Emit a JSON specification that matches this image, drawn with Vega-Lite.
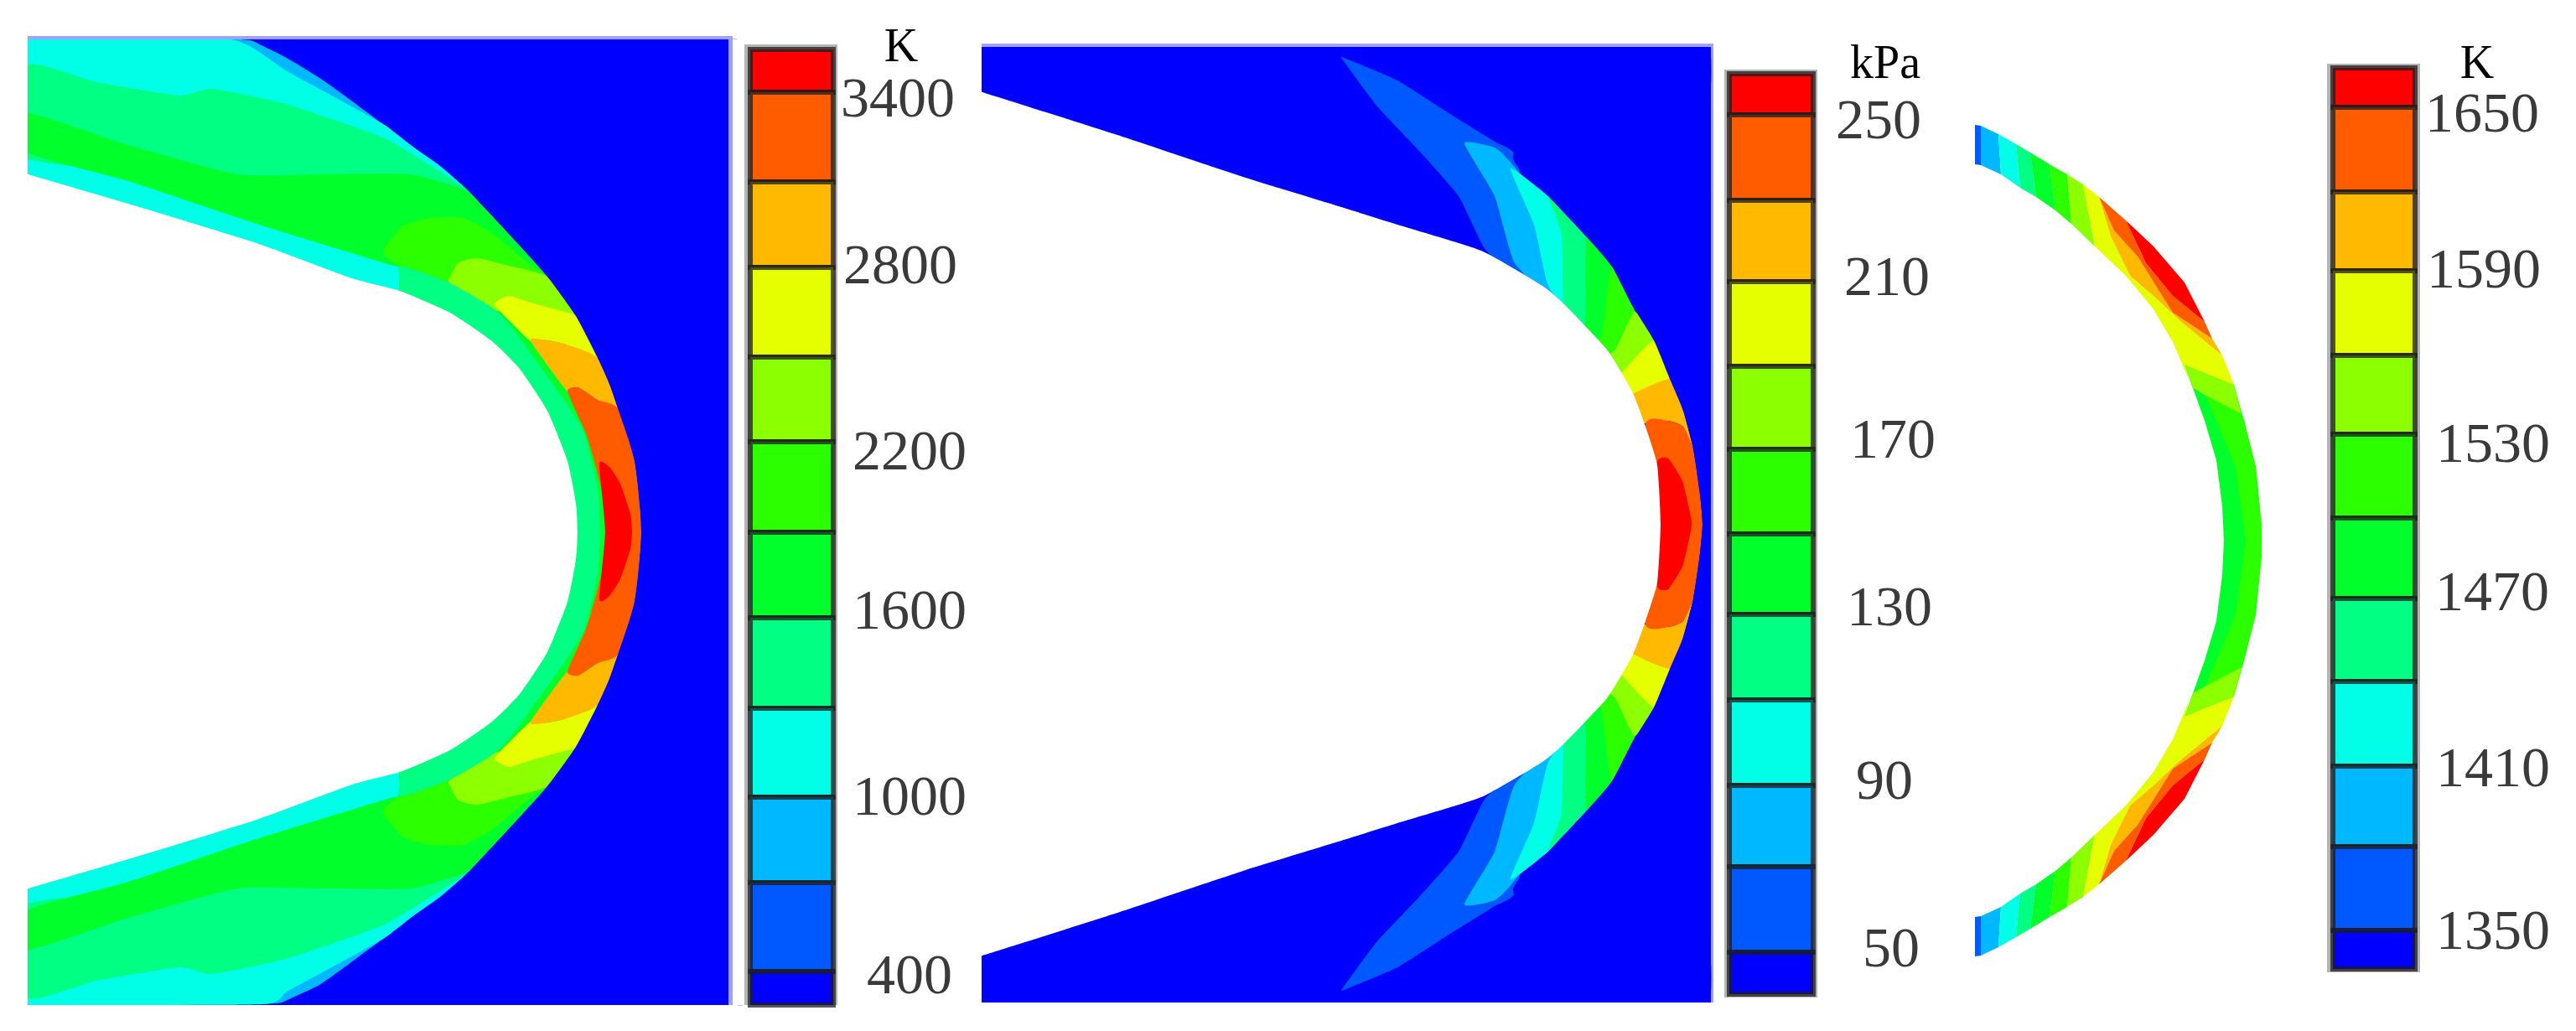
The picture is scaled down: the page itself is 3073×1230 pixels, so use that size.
{
  "$schema": "https://vega.github.io/schema/vega-lite/v6.json",
  "width": 3073,
  "height": 1230,
  "autosize": {"type": "none"},
  "padding": 0,
  "background": "white",
  "view": {"stroke": null},
  "datasets": {
    "regions": [
      {"s":"a00","b":"h","x":33,"y":43},{"s":"a00","b":"h","x":874,"y":43},{"s":"a00","b":"h","x":874,"y":1199},{"s":"a00","b":"h","x":33,"y":1199},
      {"s":"a01","b":"0","x":33,"y":47},{"s":"a01","b":"0","x":869,"y":47},{"s":"a01","b":"0","x":869,"y":1199},{"s":"a01","b":"0","x":33,"y":1199},
      {"s":"a02","b":"2","x":33,"y":100},{"s":"a02","b":"2","x":33,"y":60},{"s":"a02","b":"2","x":33,"y":47},{"s":"a02","b":"2","x":45,"y":47},{"s":"a02","b":"2","x":298,"y":48},{"s":"a02","b":"2","x":383,"y":94},{"s":"a02","b":"2","x":490,"y":173},{"s":"a02","b":"2","x":555,"y":224},{"s":"a02","b":"2","x":580,"y":250},{"s":"a02","b":"2","x":653,"y":330},{"s":"a02","b":"2","x":687,"y":377},{"s":"a02","b":"2","x":713,"y":427},{"s":"a02","b":"2","x":737,"y":487},{"s":"a02","b":"2","x":757,"y":550},{"s":"a02","b":"2","x":765,"y":634},{"s":"a02","b":"2","x":757,"y":718},{"s":"a02","b":"2","x":737,"y":781},{"s":"a02","b":"2","x":713,"y":841},{"s":"a02","b":"2","x":687,"y":891},{"s":"a02","b":"2","x":653,"y":938},{"s":"a02","b":"2","x":580,"y":1018},{"s":"a02","b":"2","x":555,"y":1044},{"s":"a02","b":"2","x":490,"y":1095},{"s":"a02","b":"2","x":383,"y":1174},{"s":"a02","b":"2","x":330,"y":1197},{"s":"a02","b":"2","x":45,"y":1199},{"s":"a02","b":"2","x":33,"y":1199},{"s":"a02","b":"2","x":33,"y":1186},{"s":"a02","b":"2","x":33,"y":1150},
      {"s":"a03","b":"3","x":33,"y":60},{"s":"a03","b":"3","x":33,"y":47},{"s":"a03","b":"3","x":45,"y":47},{"s":"a03","b":"3","x":275,"y":47},{"s":"a03","b":"3","x":344,"y":86},{"s":"a03","b":"3","x":459,"y":149},{"s":"a03","b":"3","x":551,"y":212},{"s":"a03","b":"3","x":555,"y":224},{"s":"a03","b":"3","x":500,"y":350},{"s":"a03","b":"3","x":33,"y":350},
      {"s":"a04","b":"3","x":33,"y":1186},{"s":"a04","b":"3","x":33,"y":1199},{"s":"a04","b":"3","x":45,"y":1199},{"s":"a04","b":"3","x":314,"y":1198},{"s":"a04","b":"3","x":344,"y":1182},{"s":"a04","b":"3","x":459,"y":1119},{"s":"a04","b":"3","x":551,"y":1056},{"s":"a04","b":"3","x":555,"y":1044},{"s":"a04","b":"3","x":500,"y":918},{"s":"a04","b":"3","x":33,"y":918},
      {"s":"a05","b":"4","x":33,"y":78},{"s":"a05","b":"4","x":115,"y":98},{"s":"a05","b":"4","x":214,"y":114},{"s":"a05","b":"4","x":253,"y":106},{"s":"a05","b":"4","x":344,"y":125},{"s":"a05","b":"4","x":459,"y":165},{"s":"a05","b":"4","x":536,"y":212},{"s":"a05","b":"4","x":555,"y":224},{"s":"a05","b":"4","x":565,"y":240},{"s":"a05","b":"4","x":33,"y":190},
      {"s":"a06","b":"4","x":33,"y":1190},{"s":"a06","b":"4","x":115,"y":1170},{"s":"a06","b":"4","x":214,"y":1154},{"s":"a06","b":"4","x":253,"y":1162},{"s":"a06","b":"4","x":344,"y":1143},{"s":"a06","b":"4","x":459,"y":1103},{"s":"a06","b":"4","x":536,"y":1056},{"s":"a06","b":"4","x":555,"y":1044},{"s":"a06","b":"4","x":565,"y":1028},{"s":"a06","b":"4","x":33,"y":1078},
      {"s":"a07","b":"5","x":33,"y":135},{"s":"a07","b":"5","x":153,"y":173},{"s":"a07","b":"5","x":283,"y":208},{"s":"a07","b":"5","x":383,"y":208},{"s":"a07","b":"5","x":490,"y":208},{"s":"a07","b":"5","x":555,"y":227},{"s":"a07","b":"5","x":580,"y":250},{"s":"a07","b":"5","x":653,"y":330},{"s":"a07","b":"5","x":700,"y":450},{"s":"a07","b":"5","x":650,"y":480},{"s":"a07","b":"5","x":540,"y":380},{"s":"a07","b":"5","x":478,"y":350},{"s":"a07","b":"5","x":478,"y":320},{"s":"a07","b":"5","x":459,"y":314},{"s":"a07","b":"5","x":306,"y":267},{"s":"a07","b":"5","x":153,"y":216},{"s":"a07","b":"5","x":33,"y":182},
      {"s":"a08","b":"5","x":33,"y":1133},{"s":"a08","b":"5","x":153,"y":1095},{"s":"a08","b":"5","x":283,"y":1060},{"s":"a08","b":"5","x":383,"y":1060},{"s":"a08","b":"5","x":490,"y":1060},{"s":"a08","b":"5","x":555,"y":1041},{"s":"a08","b":"5","x":580,"y":1018},{"s":"a08","b":"5","x":653,"y":938},{"s":"a08","b":"5","x":700,"y":818},{"s":"a08","b":"5","x":650,"y":788},{"s":"a08","b":"5","x":540,"y":888},{"s":"a08","b":"5","x":478,"y":918},{"s":"a08","b":"5","x":478,"y":948},{"s":"a08","b":"5","x":459,"y":954},{"s":"a08","b":"5","x":306,"y":1001},{"s":"a08","b":"5","x":153,"y":1052},{"s":"a08","b":"5","x":33,"y":1086},
      {"s":"a09","b":"5","x":640,"y":400},{"s":"a09","b":"5","x":700,"y":450},{"s":"a09","b":"5","x":725,"y":634},{"s":"a09","b":"5","x":700,"y":818},{"s":"a09","b":"5","x":640,"y":868},{"s":"a09","b":"5","x":660,"y":634},
      {"s":"a10","b":"6","x":457,"y":300},{"s":"a10","b":"6","x":480,"y":270},{"s":"a10","b":"6","x":513,"y":260},{"s":"a10","b":"6","x":553,"y":260},{"s":"a10","b":"6","x":587,"y":278},{"s":"a10","b":"6","x":633,"y":316},{"s":"a10","b":"6","x":653,"y":330},{"s":"a10","b":"6","x":687,"y":377},{"s":"a10","b":"6","x":713,"y":427},{"s":"a10","b":"6","x":650,"y":400},{"s":"a10","b":"6","x":587,"y":367},{"s":"a10","b":"6","x":537,"y":338},{"s":"a10","b":"6","x":477,"y":318},
      {"s":"a11","b":"6","x":457,"y":968},{"s":"a11","b":"6","x":480,"y":998},{"s":"a11","b":"6","x":513,"y":1008},{"s":"a11","b":"6","x":553,"y":1008},{"s":"a11","b":"6","x":587,"y":990},{"s":"a11","b":"6","x":633,"y":952},{"s":"a11","b":"6","x":653,"y":938},{"s":"a11","b":"6","x":687,"y":891},{"s":"a11","b":"6","x":713,"y":841},{"s":"a11","b":"6","x":650,"y":868},{"s":"a11","b":"6","x":587,"y":901},{"s":"a11","b":"6","x":537,"y":930},{"s":"a11","b":"6","x":477,"y":950},
      {"s":"a12","b":"7","x":537,"y":330},{"s":"a12","b":"7","x":547,"y":313},{"s":"a12","b":"7","x":570,"y":308},{"s":"a12","b":"7","x":607,"y":317},{"s":"a12","b":"7","x":653,"y":330},{"s":"a12","b":"7","x":687,"y":377},{"s":"a12","b":"7","x":692,"y":387},{"s":"a12","b":"7","x":590,"y":370},{"s":"a12","b":"7","x":537,"y":338},
      {"s":"a13","b":"7","x":537,"y":938},{"s":"a13","b":"7","x":547,"y":955},{"s":"a13","b":"7","x":570,"y":960},{"s":"a13","b":"7","x":607,"y":951},{"s":"a13","b":"7","x":653,"y":938},{"s":"a13","b":"7","x":687,"y":891},{"s":"a13","b":"7","x":692,"y":881},{"s":"a13","b":"7","x":590,"y":898},{"s":"a13","b":"7","x":537,"y":930},
      {"s":"a14","b":"8","x":590,"y":363},{"s":"a14","b":"8","x":607,"y":353},{"s":"a14","b":"8","x":637,"y":362},{"s":"a14","b":"8","x":677,"y":373},{"s":"a14","b":"8","x":687,"y":377},{"s":"a14","b":"8","x":713,"y":427},{"s":"a14","b":"8","x":673,"y":410},{"s":"a14","b":"8","x":647,"y":405},{"s":"a14","b":"8","x":633,"y":407},{"s":"a14","b":"8","x":610,"y":385},
      {"s":"a15","b":"8","x":590,"y":905},{"s":"a15","b":"8","x":607,"y":915},{"s":"a15","b":"8","x":637,"y":906},{"s":"a15","b":"8","x":677,"y":895},{"s":"a15","b":"8","x":687,"y":891},{"s":"a15","b":"8","x":713,"y":841},{"s":"a15","b":"8","x":673,"y":858},{"s":"a15","b":"8","x":647,"y":863},{"s":"a15","b":"8","x":633,"y":861},{"s":"a15","b":"8","x":610,"y":883},
      {"s":"a16","b":"9","x":633,"y":407},{"s":"a16","b":"9","x":647,"y":405},{"s":"a16","b":"9","x":673,"y":410},{"s":"a16","b":"9","x":713,"y":427},{"s":"a16","b":"9","x":737,"y":487},{"s":"a16","b":"9","x":713,"y":477},{"s":"a16","b":"9","x":690,"y":462},{"s":"a16","b":"9","x":677,"y":467},
      {"s":"a17","b":"9","x":633,"y":861},{"s":"a17","b":"9","x":647,"y":863},{"s":"a17","b":"9","x":673,"y":858},{"s":"a17","b":"9","x":713,"y":841},{"s":"a17","b":"9","x":737,"y":781},{"s":"a17","b":"9","x":713,"y":791},{"s":"a17","b":"9","x":690,"y":806},{"s":"a17","b":"9","x":677,"y":801},
      {"s":"a18","b":"10","x":677,"y":467},{"s":"a18","b":"10","x":690,"y":462},{"s":"a18","b":"10","x":713,"y":477},{"s":"a18","b":"10","x":737,"y":487},{"s":"a18","b":"10","x":757,"y":550},{"s":"a18","b":"10","x":765,"y":634},{"s":"a18","b":"10","x":757,"y":718},{"s":"a18","b":"10","x":737,"y":781},{"s":"a18","b":"10","x":713,"y":791},{"s":"a18","b":"10","x":690,"y":806},{"s":"a18","b":"10","x":677,"y":801},{"s":"a18","b":"10","x":700,"y":748},{"s":"a18","b":"10","x":718,"y":683},{"s":"a18","b":"10","x":722,"y":634},{"s":"a18","b":"10","x":718,"y":585},{"s":"a18","b":"10","x":700,"y":520},
      {"s":"a19","b":"11","x":715,"y":553},{"s":"a19","b":"11","x":727,"y":557},{"s":"a19","b":"11","x":740,"y":577},{"s":"a19","b":"11","x":752,"y":613},{"s":"a19","b":"11","x":754,"y":634},{"s":"a19","b":"11","x":752,"y":655},{"s":"a19","b":"11","x":740,"y":691},{"s":"a19","b":"11","x":727,"y":711},{"s":"a19","b":"11","x":715,"y":715},{"s":"a19","b":"11","x":722,"y":634},
      {"s":"a20","b":"4","x":477,"y":318},{"s":"a20","b":"4","x":537,"y":338},{"s":"a20","b":"4","x":587,"y":367},{"s":"a20","b":"4","x":610,"y":390},{"s":"a20","b":"4","x":637,"y":427},{"s":"a20","b":"4","x":677,"y":483},{"s":"a20","b":"4","x":697,"y":517},{"s":"a20","b":"4","x":713,"y":583},{"s":"a20","b":"4","x":716,"y":634},{"s":"a20","b":"4","x":713,"y":685},{"s":"a20","b":"4","x":697,"y":751},{"s":"a20","b":"4","x":677,"y":785},{"s":"a20","b":"4","x":637,"y":841},{"s":"a20","b":"4","x":610,"y":878},{"s":"a20","b":"4","x":587,"y":901},{"s":"a20","b":"4","x":537,"y":930},{"s":"a20","b":"4","x":477,"y":950},{"s":"a20","b":"4","x":477,"y":910},{"s":"a20","b":"4","x":477,"y":360},
      {"s":"a30","b":"0","x":302,"y":47},{"s":"a30","b":"0","x":298,"y":47},{"s":"a30","b":"0","x":340,"y":68},{"s":"a30","b":"0","x":383,"y":94},{"s":"a30","b":"0","x":435,"y":130},{"s":"a30","b":"0","x":490,"y":173},{"s":"a30","b":"0","x":525,"y":198},{"s":"a30","b":"0","x":555,"y":224},{"s":"a30","b":"0","x":580,"y":250},{"s":"a30","b":"0","x":617,"y":290},{"s":"a30","b":"0","x":653,"y":330},{"s":"a30","b":"0","x":687,"y":377},{"s":"a30","b":"0","x":713,"y":427},{"s":"a30","b":"0","x":727,"y":458},{"s":"a30","b":"0","x":737,"y":487},{"s":"a30","b":"0","x":750,"y":525},{"s":"a30","b":"0","x":757,"y":550},{"s":"a30","b":"0","x":763,"y":590},{"s":"a30","b":"0","x":765,"y":634},{"s":"a30","b":"0","x":763,"y":678},{"s":"a30","b":"0","x":757,"y":718},{"s":"a30","b":"0","x":750,"y":743},{"s":"a30","b":"0","x":737,"y":781},{"s":"a30","b":"0","x":727,"y":810},{"s":"a30","b":"0","x":713,"y":841},{"s":"a30","b":"0","x":687,"y":891},{"s":"a30","b":"0","x":653,"y":938},{"s":"a30","b":"0","x":617,"y":978},{"s":"a30","b":"0","x":580,"y":1018},{"s":"a30","b":"0","x":555,"y":1044},{"s":"a30","b":"0","x":525,"y":1070},{"s":"a30","b":"0","x":490,"y":1095},{"s":"a30","b":"0","x":435,"y":1138},{"s":"a30","b":"0","x":383,"y":1174},{"s":"a30","b":"0","x":330,"y":1199},{"s":"a30","b":"0","x":334,"y":1199},{"s":"a30","b":"0","x":866,"y":1199},{"s":"a30","b":"0","x":869,"y":1199},{"s":"a30","b":"0","x":869,"y":1190},{"s":"a30","b":"0","x":869,"y":56},{"s":"a30","b":"0","x":869,"y":47},{"s":"a30","b":"0","x":860,"y":47},
      {"s":"a31","b":"w","x":33,"y":208},{"s":"a31","b":"w","x":37,"y":209},{"s":"a31","b":"w","x":153,"y":243},{"s":"a31","b":"w","x":306,"y":290},{"s":"a31","b":"w","x":420,"y":332},{"s":"a31","b":"w","x":477,"y":347},{"s":"a31","b":"w","x":537,"y":373},{"s":"a31","b":"w","x":587,"y":407},{"s":"a31","b":"w","x":620,"y":440},{"s":"a31","b":"w","x":653,"y":490},{"s":"a31","b":"w","x":677,"y":550},{"s":"a31","b":"w","x":687,"y":600},{"s":"a31","b":"w","x":689,"y":634},{"s":"a31","b":"w","x":687,"y":668},{"s":"a31","b":"w","x":677,"y":718},{"s":"a31","b":"w","x":653,"y":778},{"s":"a31","b":"w","x":620,"y":828},{"s":"a31","b":"w","x":587,"y":861},{"s":"a31","b":"w","x":537,"y":895},{"s":"a31","b":"w","x":477,"y":921},{"s":"a31","b":"w","x":420,"y":936},{"s":"a31","b":"w","x":306,"y":978},{"s":"a31","b":"w","x":153,"y":1025},{"s":"a31","b":"w","x":37,"y":1059},{"s":"a31","b":"w","x":33,"y":1060},{"s":"a31","b":"w","x":33,"y":1020},{"s":"a31","b":"w","x":33,"y":250},

      {"s":"b00","b":"h","x":1171,"y":52},{"s":"b00","b":"h","x":2044,"y":52},{"s":"b00","b":"h","x":2044,"y":1196},{"s":"b00","b":"h","x":1171,"y":1196},
      {"s":"b01","b":"0","x":1171,"y":56},{"s":"b01","b":"0","x":2041,"y":56},{"s":"b01","b":"0","x":2041,"y":1196},{"s":"b01","b":"0","x":1171,"y":1196},
      {"s":"b02","b":"1","x":1603,"y":69},{"s":"b02","b":"1","x":1667,"y":96},{"s":"b02","b":"1","x":1733,"y":138},{"s":"b02","b":"1","x":1783,"y":169},{"s":"b02","b":"1","x":1810,"y":190},{"s":"b02","b":"1","x":1830,"y":340},{"s":"b02","b":"1","x":1773,"y":299},{"s":"b02","b":"1","x":1740,"y":234},{"s":"b02","b":"1","x":1693,"y":180},{"s":"b02","b":"1","x":1643,"y":127},{"s":"b02","b":"1","x":1603,"y":73},
      {"s":"b03","b":"1","x":1603,"y":1181},{"s":"b03","b":"1","x":1667,"y":1154},{"s":"b03","b":"1","x":1733,"y":1112},{"s":"b03","b":"1","x":1783,"y":1081},{"s":"b03","b":"1","x":1810,"y":1060},{"s":"b03","b":"1","x":1830,"y":910},{"s":"b03","b":"1","x":1773,"y":951},{"s":"b03","b":"1","x":1740,"y":1016},{"s":"b03","b":"1","x":1693,"y":1070},{"s":"b03","b":"1","x":1643,"y":1123},{"s":"b03","b":"1","x":1603,"y":1177},
      {"s":"b04","b":"2","x":1747,"y":171},{"s":"b04","b":"2","x":1783,"y":176},{"s":"b04","b":"2","x":1803,"y":195},{"s":"b04","b":"2","x":1860,"y":270},{"s":"b04","b":"2","x":1860,"y":360},{"s":"b04","b":"2","x":1807,"y":314},{"s":"b04","b":"2","x":1783,"y":234},
      {"s":"b05","b":"2","x":1747,"y":1079},{"s":"b05","b":"2","x":1783,"y":1074},{"s":"b05","b":"2","x":1803,"y":1055},{"s":"b05","b":"2","x":1860,"y":980},{"s":"b05","b":"2","x":1860,"y":890},{"s":"b05","b":"2","x":1807,"y":936},{"s":"b05","b":"2","x":1783,"y":1016},
      {"s":"b06","b":"3","x":1802,"y":201},{"s":"b06","b":"3","x":1847,"y":234},{"s":"b06","b":"3","x":1870,"y":258},{"s":"b06","b":"3","x":1880,"y":380},{"s":"b06","b":"3","x":1847,"y":341},{"s":"b06","b":"3","x":1830,"y":268},
      {"s":"b07","b":"3","x":1802,"y":1049},{"s":"b07","b":"3","x":1847,"y":1016},{"s":"b07","b":"3","x":1870,"y":992},{"s":"b07","b":"3","x":1880,"y":870},{"s":"b07","b":"3","x":1847,"y":909},{"s":"b07","b":"3","x":1830,"y":982},
      {"s":"b08","b":"4","x":1847,"y":234},{"s":"b08","b":"4","x":1893,"y":283},{"s":"b08","b":"4","x":1905,"y":300},{"s":"b08","b":"4","x":1905,"y":410},{"s":"b08","b":"4","x":1867,"y":374},{"s":"b08","b":"4","x":1863,"y":280},
      {"s":"b09","b":"4","x":1847,"y":1016},{"s":"b09","b":"4","x":1893,"y":967},{"s":"b09","b":"4","x":1905,"y":950},{"s":"b09","b":"4","x":1905,"y":840},{"s":"b09","b":"4","x":1867,"y":876},{"s":"b09","b":"4","x":1863,"y":970},
      {"s":"b10","b":"5","x":1893,"y":283},{"s":"b10","b":"5","x":1923,"y":318},{"s":"b10","b":"5","x":1935,"y":340},{"s":"b10","b":"5","x":1930,"y":440},{"s":"b10","b":"5","x":1892,"y":400},{"s":"b10","b":"5","x":1892,"y":368},
      {"s":"b11","b":"5","x":1893,"y":967},{"s":"b11","b":"5","x":1923,"y":932},{"s":"b11","b":"5","x":1935,"y":910},{"s":"b11","b":"5","x":1930,"y":810},{"s":"b11","b":"5","x":1892,"y":850},{"s":"b11","b":"5","x":1892,"y":882},
      {"s":"b12","b":"6","x":1923,"y":318},{"s":"b12","b":"6","x":1947,"y":364},{"s":"b12","b":"6","x":1955,"y":385},{"s":"b12","b":"6","x":1930,"y":417},{"s":"b12","b":"6","x":1925,"y":470},{"s":"b12","b":"6","x":1890,"y":440},{"s":"b12","b":"6","x":1910,"y":402},{"s":"b12","b":"6","x":1917,"y":352},
      {"s":"b13","b":"6","x":1923,"y":932},{"s":"b13","b":"6","x":1947,"y":886},{"s":"b13","b":"6","x":1955,"y":865},{"s":"b13","b":"6","x":1930,"y":833},{"s":"b13","b":"6","x":1925,"y":780},{"s":"b13","b":"6","x":1890,"y":810},{"s":"b13","b":"6","x":1910,"y":848},{"s":"b13","b":"6","x":1917,"y":898},
      {"s":"b14","b":"7","x":1950,"y":372},{"s":"b14","b":"7","x":1973,"y":406},{"s":"b14","b":"7","x":1920,"y":463},{"s":"b14","b":"7","x":1900,"y":440},{"s":"b14","b":"7","x":1927,"y":417},
      {"s":"b15","b":"7","x":1950,"y":878},{"s":"b15","b":"7","x":1973,"y":844},{"s":"b15","b":"7","x":1920,"y":787},{"s":"b15","b":"7","x":1900,"y":810},{"s":"b15","b":"7","x":1927,"y":833},
      {"s":"b16","b":"8","x":1973,"y":406},{"s":"b16","b":"8","x":1992,"y":452},{"s":"b16","b":"8","x":1930,"y":480},{"s":"b16","b":"8","x":1920,"y":463},
      {"s":"b17","b":"8","x":1973,"y":844},{"s":"b17","b":"8","x":1992,"y":798},{"s":"b17","b":"8","x":1930,"y":770},{"s":"b17","b":"8","x":1920,"y":787},
      {"s":"b18","b":"9","x":1930,"y":480},{"s":"b18","b":"9","x":1992,"y":452},{"s":"b18","b":"9","x":2008,"y":490},{"s":"b18","b":"9","x":2020,"y":536},{"s":"b18","b":"9","x":2008,"y":509},{"s":"b18","b":"9","x":1990,"y":502},{"s":"b18","b":"9","x":1963,"y":505},{"s":"b18","b":"9","x":1940,"y":510},
      {"s":"b19","b":"9","x":1930,"y":770},{"s":"b19","b":"9","x":1992,"y":798},{"s":"b19","b":"9","x":2008,"y":760},{"s":"b19","b":"9","x":2020,"y":714},{"s":"b19","b":"9","x":2008,"y":741},{"s":"b19","b":"9","x":1990,"y":748},{"s":"b19","b":"9","x":1963,"y":745},{"s":"b19","b":"9","x":1940,"y":740},
      {"s":"b20","b":"10","x":1963,"y":505},{"s":"b20","b":"10","x":1990,"y":502},{"s":"b20","b":"10","x":2008,"y":509},{"s":"b20","b":"10","x":2020,"y":536},{"s":"b20","b":"10","x":2028,"y":590},{"s":"b20","b":"10","x":2031,"y":625},{"s":"b20","b":"10","x":2028,"y":660},{"s":"b20","b":"10","x":2020,"y":714},{"s":"b20","b":"10","x":2008,"y":741},{"s":"b20","b":"10","x":1990,"y":748},{"s":"b20","b":"10","x":1963,"y":745},{"s":"b20","b":"10","x":1950,"y":625},
      {"s":"b21","b":"11","x":1977,"y":551},{"s":"b21","b":"11","x":1990,"y":547},{"s":"b21","b":"11","x":2007,"y":574},{"s":"b21","b":"11","x":2017,"y":616},{"s":"b21","b":"11","x":2018,"y":625},{"s":"b21","b":"11","x":2017,"y":634},{"s":"b21","b":"11","x":2007,"y":676},{"s":"b21","b":"11","x":1990,"y":703},{"s":"b21","b":"11","x":1977,"y":699},{"s":"b21","b":"11","x":1975,"y":625},
      {"s":"b30","b":"0","x":2041,"y":110},{"s":"b30","b":"0","x":2041,"y":100},{"s":"b30","b":"0","x":2030,"y":100},{"s":"b30","b":"0","x":1850,"y":100},{"s":"b30","b":"0","x":1805,"y":188},{"s":"b30","b":"0","x":1847,"y":234},{"s":"b30","b":"0","x":1893,"y":283},{"s":"b30","b":"0","x":1923,"y":318},{"s":"b30","b":"0","x":1947,"y":364},{"s":"b30","b":"0","x":1973,"y":406},{"s":"b30","b":"0","x":1992,"y":452},{"s":"b30","b":"0","x":2008,"y":490},{"s":"b30","b":"0","x":2020,"y":536},{"s":"b30","b":"0","x":2028,"y":590},{"s":"b30","b":"0","x":2031,"y":625},{"s":"b30","b":"0","x":2028,"y":660},{"s":"b30","b":"0","x":2020,"y":714},{"s":"b30","b":"0","x":2008,"y":760},{"s":"b30","b":"0","x":1992,"y":798},{"s":"b30","b":"0","x":1973,"y":844},{"s":"b30","b":"0","x":1947,"y":886},{"s":"b30","b":"0","x":1923,"y":932},{"s":"b30","b":"0","x":1893,"y":967},{"s":"b30","b":"0","x":1847,"y":1016},{"s":"b30","b":"0","x":1805,"y":1062},{"s":"b30","b":"0","x":1850,"y":1150},{"s":"b30","b":"0","x":2030,"y":1150},{"s":"b30","b":"0","x":2041,"y":1150},{"s":"b30","b":"0","x":2041,"y":1140},
      {"s":"b31","b":"w","x":1171,"y":110},{"s":"b31","b":"w","x":1175,"y":111},{"s":"b31","b":"w","x":1333,"y":161},{"s":"b31","b":"w","x":1486,"y":212},{"s":"b31","b":"w","x":1600,"y":247},{"s":"b31","b":"w","x":1667,"y":268},{"s":"b31","b":"w","x":1767,"y":299},{"s":"b31","b":"w","x":1840,"y":341},{"s":"b31","b":"w","x":1867,"y":364},{"s":"b31","b":"w","x":1917,"y":417},{"s":"b31","b":"w","x":1947,"y":467},{"s":"b31","b":"w","x":1963,"y":509},{"s":"b31","b":"w","x":1977,"y":555},{"s":"b31","b":"w","x":1981,"y":625},{"s":"b31","b":"w","x":1977,"y":695},{"s":"b31","b":"w","x":1963,"y":741},{"s":"b31","b":"w","x":1947,"y":783},{"s":"b31","b":"w","x":1917,"y":833},{"s":"b31","b":"w","x":1867,"y":886},{"s":"b31","b":"w","x":1840,"y":909},{"s":"b31","b":"w","x":1767,"y":951},{"s":"b31","b":"w","x":1667,"y":982},{"s":"b31","b":"w","x":1600,"y":1003},{"s":"b31","b":"w","x":1486,"y":1038},{"s":"b31","b":"w","x":1333,"y":1089},{"s":"b31","b":"w","x":1175,"y":1139},{"s":"b31","b":"w","x":1171,"y":1140},{"s":"b31","b":"w","x":1171,"y":1100},{"s":"b31","b":"w","x":1171,"y":150},

      {"s":"c01","b":"5","x":2606,"y":435},{"s":"c01","b":"5","x":2665,"y":459},{"s":"c01","b":"5","x":2677,"y":502},{"s":"c01","b":"5","x":2691,"y":557},{"s":"c01","b":"5","x":2698,"y":628},{"s":"c01","b":"5","x":2698,"y":662},{"s":"c01","b":"5","x":2691,"y":733},{"s":"c01","b":"5","x":2677,"y":788},{"s":"c01","b":"5","x":2665,"y":831},{"s":"c01","b":"5","x":2606,"y":855},{"s":"c01","b":"5","x":2616,"y":827},{"s":"c01","b":"5","x":2630,"y":788},{"s":"c01","b":"5","x":2644,"y":741},{"s":"c01","b":"5","x":2651,"y":686},{"s":"c01","b":"5","x":2653,"y":645},{"s":"c01","b":"5","x":2651,"y":604},{"s":"c01","b":"5","x":2644,"y":549},{"s":"c01","b":"5","x":2630,"y":502},{"s":"c01","b":"5","x":2616,"y":463},
      {"s":"c02","b":"6","x":2630,"y":471},{"s":"c02","b":"6","x":2674,"y":494},{"s":"c02","b":"6","x":2677,"y":502},{"s":"c02","b":"6","x":2691,"y":557},{"s":"c02","b":"6","x":2698,"y":628},{"s":"c02","b":"6","x":2698,"y":662},{"s":"c02","b":"6","x":2691,"y":733},{"s":"c02","b":"6","x":2677,"y":788},{"s":"c02","b":"6","x":2674,"y":796},{"s":"c02","b":"6","x":2630,"y":819},{"s":"c02","b":"6","x":2644,"y":788},{"s":"c02","b":"6","x":2667,"y":733},{"s":"c02","b":"6","x":2679,"y":645},{"s":"c02","b":"6","x":2667,"y":557},{"s":"c02","b":"6","x":2644,"y":502},
      {"s":"c03","b":"7","x":2606,"y":435},{"s":"c03","b":"7","x":2665,"y":459},{"s":"c03","b":"7","x":2674,"y":494},{"s":"c03","b":"7","x":2630,"y":471},{"s":"c03","b":"7","x":2616,"y":463},
      {"s":"c04","b":"7","x":2606,"y":855},{"s":"c04","b":"7","x":2665,"y":831},{"s":"c04","b":"7","x":2674,"y":796},{"s":"c04","b":"7","x":2630,"y":819},{"s":"c04","b":"7","x":2616,"y":827},
      {"s":"c05","b":"1","x":2356,"y":149},{"s":"c05","b":"1","x":2363,"y":150},{"s":"c05","b":"1","x":2363,"y":197},{"s":"c05","b":"1","x":2356,"y":196},
      {"s":"c06","b":"2","x":2363,"y":150},{"s":"c06","b":"2","x":2384,"y":160},{"s":"c06","b":"2","x":2387,"y":208},{"s":"c06","b":"2","x":2363,"y":197},
      {"s":"c07","b":"3","x":2384,"y":160},{"s":"c07","b":"3","x":2405,"y":172},{"s":"c07","b":"3","x":2410,"y":224},{"s":"c07","b":"3","x":2387,"y":208},
      {"s":"c08","b":"4","x":2405,"y":172},{"s":"c08","b":"4","x":2422,"y":182},{"s":"c08","b":"4","x":2429,"y":235},{"s":"c08","b":"4","x":2410,"y":224},
      {"s":"c09","b":"5","x":2422,"y":182},{"s":"c09","b":"5","x":2445,"y":196},{"s":"c09","b":"5","x":2452,"y":251},{"s":"c09","b":"5","x":2429,"y":235},
      {"s":"c10","b":"6","x":2445,"y":196},{"s":"c10","b":"6","x":2466,"y":208},{"s":"c10","b":"6","x":2471,"y":267},{"s":"c10","b":"6","x":2452,"y":251},
      {"s":"c11","b":"7","x":2466,"y":208},{"s":"c11","b":"7","x":2485,"y":220},{"s":"c11","b":"7","x":2499,"y":294},{"s":"c11","b":"7","x":2471,"y":267},
      {"s":"c12","b":"8","x":2485,"y":220},{"s":"c12","b":"8","x":2504,"y":235},{"s":"c12","b":"8","x":2518,"y":282},{"s":"c12","b":"8","x":2541,"y":329},{"s":"c12","b":"8","x":2569,"y":353},{"s":"c12","b":"8","x":2602,"y":384},{"s":"c12","b":"8","x":2651,"y":424},{"s":"c12","b":"8","x":2665,"y":459},{"s":"c12","b":"8","x":2606,"y":435},{"s":"c12","b":"8","x":2612,"y":455},{"s":"c12","b":"8","x":2592,"y":408},{"s":"c12","b":"8","x":2569,"y":369},{"s":"c12","b":"8","x":2536,"y":329},{"s":"c12","b":"8","x":2499,"y":294},
      {"s":"c13","b":"9","x":2504,"y":235},{"s":"c13","b":"9","x":2522,"y":275},{"s":"c13","b":"9","x":2550,"y":306},{"s":"c13","b":"9","x":2592,"y":373},{"s":"c13","b":"9","x":2639,"y":404},{"s":"c13","b":"9","x":2651,"y":424},{"s":"c13","b":"9","x":2602,"y":384},{"s":"c13","b":"9","x":2569,"y":353},{"s":"c13","b":"9","x":2541,"y":329},{"s":"c13","b":"9","x":2518,"y":282},
      {"s":"c14","b":"10","x":2504,"y":235},{"s":"c14","b":"10","x":2536,"y":263},{"s":"c14","b":"10","x":2560,"y":314},{"s":"c14","b":"10","x":2592,"y":353},{"s":"c14","b":"10","x":2630,"y":384},{"s":"c14","b":"10","x":2639,"y":404},{"s":"c14","b":"10","x":2592,"y":373},{"s":"c14","b":"10","x":2550,"y":306},{"s":"c14","b":"10","x":2522,"y":275},
      {"s":"c15","b":"11","x":2536,"y":263},{"s":"c15","b":"11","x":2569,"y":294},{"s":"c15","b":"11","x":2606,"y":337},{"s":"c15","b":"11","x":2630,"y":384},{"s":"c15","b":"11","x":2592,"y":353},{"s":"c15","b":"11","x":2560,"y":314},
      {"s":"c16","b":"1","x":2356,"y":1141},{"s":"c16","b":"1","x":2363,"y":1140},{"s":"c16","b":"1","x":2363,"y":1093},{"s":"c16","b":"1","x":2356,"y":1094},
      {"s":"c17","b":"2","x":2363,"y":1140},{"s":"c17","b":"2","x":2384,"y":1130},{"s":"c17","b":"2","x":2387,"y":1082},{"s":"c17","b":"2","x":2363,"y":1093},
      {"s":"c18","b":"3","x":2384,"y":1130},{"s":"c18","b":"3","x":2405,"y":1118},{"s":"c18","b":"3","x":2410,"y":1066},{"s":"c18","b":"3","x":2387,"y":1082},
      {"s":"c19","b":"4","x":2405,"y":1118},{"s":"c19","b":"4","x":2422,"y":1108},{"s":"c19","b":"4","x":2429,"y":1055},{"s":"c19","b":"4","x":2410,"y":1066},
      {"s":"c20","b":"5","x":2422,"y":1108},{"s":"c20","b":"5","x":2445,"y":1094},{"s":"c20","b":"5","x":2452,"y":1039},{"s":"c20","b":"5","x":2429,"y":1055},
      {"s":"c21","b":"6","x":2445,"y":1094},{"s":"c21","b":"6","x":2466,"y":1082},{"s":"c21","b":"6","x":2471,"y":1023},{"s":"c21","b":"6","x":2452,"y":1039},
      {"s":"c22","b":"7","x":2466,"y":1082},{"s":"c22","b":"7","x":2485,"y":1070},{"s":"c22","b":"7","x":2499,"y":996},{"s":"c22","b":"7","x":2471,"y":1023},
      {"s":"c23","b":"8","x":2485,"y":1070},{"s":"c23","b":"8","x":2504,"y":1055},{"s":"c23","b":"8","x":2518,"y":1008},{"s":"c23","b":"8","x":2541,"y":961},{"s":"c23","b":"8","x":2569,"y":937},{"s":"c23","b":"8","x":2602,"y":906},{"s":"c23","b":"8","x":2651,"y":866},{"s":"c23","b":"8","x":2665,"y":831},{"s":"c23","b":"8","x":2606,"y":855},{"s":"c23","b":"8","x":2612,"y":835},{"s":"c23","b":"8","x":2592,"y":882},{"s":"c23","b":"8","x":2569,"y":921},{"s":"c23","b":"8","x":2536,"y":961},{"s":"c23","b":"8","x":2499,"y":996},
      {"s":"c24","b":"9","x":2504,"y":1055},{"s":"c24","b":"9","x":2522,"y":1015},{"s":"c24","b":"9","x":2550,"y":984},{"s":"c24","b":"9","x":2592,"y":917},{"s":"c24","b":"9","x":2639,"y":886},{"s":"c24","b":"9","x":2651,"y":866},{"s":"c24","b":"9","x":2602,"y":906},{"s":"c24","b":"9","x":2569,"y":937},{"s":"c24","b":"9","x":2541,"y":961},{"s":"c24","b":"9","x":2518,"y":1008},
      {"s":"c25","b":"10","x":2504,"y":1055},{"s":"c25","b":"10","x":2536,"y":1027},{"s":"c25","b":"10","x":2560,"y":976},{"s":"c25","b":"10","x":2592,"y":937},{"s":"c25","b":"10","x":2630,"y":906},{"s":"c25","b":"10","x":2639,"y":886},{"s":"c25","b":"10","x":2592,"y":917},{"s":"c25","b":"10","x":2550,"y":984},{"s":"c25","b":"10","x":2522,"y":1015},
      {"s":"c26","b":"11","x":2536,"y":1027},{"s":"c26","b":"11","x":2569,"y":996},{"s":"c26","b":"11","x":2606,"y":953},{"s":"c26","b":"11","x":2630,"y":906},{"s":"c26","b":"11","x":2592,"y":937},{"s":"c26","b":"11","x":2560,"y":976}
    ],
    "margins": [
      {"x0":0,"x1":33,"y0":0,"y1":1230},
      {"x0":0,"x1":880,"y0":0,"y1":43},
      {"x0":0,"x1":880,"y0":1199,"y1":1230}
    ],
    "topedge": [
      {"x0":33,"x1":874,"y0":43,"y1":47}
    ],
    "frames": [
      {"x0":888,"x1":999,"y0":53,"y1":1199},
      {"x0":2057,"x1":2168,"y0":83,"y1":1190},
      {"x0":2776,"x1":2887,"y0":76,"y1":1160}
    ],
    "bars": [
      {"x0":895,"x1":994,"y0":59,"y1":110,"b":"11"},{"x0":895,"x1":994,"y0":110,"y1":217,"b":"10"},{"x0":895,"x1":994,"y0":217,"y1":319,"b":"9"},{"x0":895,"x1":994,"y0":319,"y1":426,"b":"8"},{"x0":895,"x1":994,"y0":426,"y1":527,"b":"7"},{"x0":895,"x1":994,"y0":527,"y1":635,"b":"6"},{"x0":895,"x1":994,"y0":635,"y1":737,"b":"5"},{"x0":895,"x1":994,"y0":737,"y1":845,"b":"4"},{"x0":895,"x1":994,"y0":845,"y1":951,"b":"3"},{"x0":895,"x1":994,"y0":951,"y1":1053,"b":"2"},{"x0":895,"x1":994,"y0":1053,"y1":1159,"b":"1"},{"x0":895,"x1":994,"y0":1159,"y1":1199,"b":"0"},
      {"x0":2063,"x1":2163,"y0":88,"y1":137,"b":"11"},{"x0":2063,"x1":2163,"y0":137,"y1":239,"b":"10"},{"x0":2063,"x1":2163,"y0":239,"y1":336,"b":"9"},{"x0":2063,"x1":2163,"y0":336,"y1":437,"b":"8"},{"x0":2063,"x1":2163,"y0":437,"y1":536,"b":"7"},{"x0":2063,"x1":2163,"y0":536,"y1":637,"b":"6"},{"x0":2063,"x1":2163,"y0":637,"y1":733,"b":"5"},{"x0":2063,"x1":2163,"y0":733,"y1":835,"b":"4"},{"x0":2063,"x1":2163,"y0":835,"y1":937,"b":"3"},{"x0":2063,"x1":2163,"y0":937,"y1":1034,"b":"2"},{"x0":2063,"x1":2163,"y0":1034,"y1":1136,"b":"1"},{"x0":2063,"x1":2163,"y0":1136,"y1":1186,"b":"0"},
      {"x0":2783,"x1":2881,"y0":81,"y1":128,"b":"11"},{"x0":2783,"x1":2881,"y0":128,"y1":229,"b":"10"},{"x0":2783,"x1":2881,"y0":229,"y1":323,"b":"9"},{"x0":2783,"x1":2881,"y0":323,"y1":424,"b":"8"},{"x0":2783,"x1":2881,"y0":424,"y1":518,"b":"7"},{"x0":2783,"x1":2881,"y0":518,"y1":618,"b":"6"},{"x0":2783,"x1":2881,"y0":618,"y1":714,"b":"5"},{"x0":2783,"x1":2881,"y0":714,"y1":813,"b":"4"},{"x0":2783,"x1":2881,"y0":813,"y1":914,"b":"3"},{"x0":2783,"x1":2881,"y0":914,"y1":1010,"b":"2"},{"x0":2783,"x1":2881,"y0":1010,"y1":1110,"b":"1"},{"x0":2783,"x1":2881,"y0":1110,"y1":1156,"b":"0"}
    ],
    "ticks": [
      {"x":1071,"y":119,"t":"3400"},{"x":1074,"y":318,"t":"2800"},{"x":1085,"y":540,"t":"2200"},{"x":1085,"y":730,"t":"1600"},{"x":1085,"y":952,"t":"1000"},{"x":1085,"y":1165,"t":"400"},
      {"x":2241,"y":145,"t":"250"},{"x":2251,"y":332,"t":"210"},{"x":2258,"y":526,"t":"170"},{"x":2254,"y":726,"t":"130"},{"x":2248,"y":933,"t":"90"},{"x":2256,"y":1133,"t":"50"},
      {"x":2961,"y":137,"t":"1650"},{"x":2963,"y":323,"t":"1590"},{"x":2974,"y":531,"t":"1530"},{"x":2973,"y":708,"t":"1470"},{"x":2974,"y":918,"t":"1410"},{"x":2974,"y":1112,"t":"1350"}
    ],
    "units": [
      {"x":1075,"y":56,"t":"K"},
      {"x":2249,"y":76,"t":"kPa"},
      {"x":2955,"y":76,"t":"K"}
    ]
  },
  "encoding": {
    "x": {"field": "x", "type": "quantitative", "axis": null, "scale": {"domain": [0, 3073], "nice": false, "zero": false}},
    "y": {"field": "y", "type": "quantitative", "axis": null, "scale": {"domain": [1230, 0], "nice": false, "zero": false}}
  },
  "layer": [
    {
      "data": {"name": "regions"},
      "transform": [
        {"window": [{"op": "row_number", "as": "i"}]},
        {"filter": "datum.s[0] == 'c' || datum.s == 'a00' || datum.s == 'a01' || datum.s == 'b00' || datum.s == 'b01'"}
      ],
      "mark": {"type": "line", "strokeWidth": 0, "interpolate": "linear-closed"},
      "encoding": {
        "detail": {"field": "s"},
        "order": {"field": "i", "type": "quantitative"},
        "fill": {
          "field": "b",
          "type": "nominal",
          "legend": null,
          "scale": {
            "domain": ["h","w","0","1","2","3","4","5","6","7","8","9","10","11"],
            "range": ["#a0a0ff","#ffffff","#0000ff","#0058ff","#00b8ff","#00ffe6","#00ff82","#00ff2b","#2bff00","#8cff00","#e6ff00","#ffb900","#ff5c00","#ff0000"]
          }
        }
      }
    },
    {
      "data": {"name": "regions"},
      "transform": [
        {"window": [{"op": "row_number", "as": "i"}]},
        {"filter": "datum.s[0] != 'c' && datum.s != 'a00' && datum.s != 'a01' && datum.s != 'b00' && datum.s != 'b01'"}
      ],
      "mark": {"type": "line", "strokeWidth": 0, "interpolate": "cardinal-closed", "tension": 0.5},
      "encoding": {
        "detail": {"field": "s"},
        "order": {"field": "i", "type": "quantitative"},
        "fill": {"field": "b", "type": "nominal", "legend": null}
      }
    },
    {
      "data": {"name": "margins"},
      "mark": {"type": "rect", "color": "#ffffff"},
      "encoding": {
        "x": {"field": "x0", "type": "quantitative"},
        "x2": {"field": "x1"},
        "y": {"field": "y0", "type": "quantitative"},
        "y2": {"field": "y1"}
      }
    },
    {
      "data": {"name": "topedge"},
      "mark": {"type": "rect", "color": "#a0a0ff"},
      "encoding": {
        "x": {"field": "x0", "type": "quantitative"},
        "x2": {"field": "x1"},
        "y": {"field": "y0", "type": "quantitative"},
        "y2": {"field": "y1"}
      }
    },
    {
      "data": {"name": "frames"},
      "mark": {"type": "rect", "color": "#b4b4b4"},
      "encoding": {
        "x": {"field": "x0", "type": "quantitative"},
        "x2": {"field": "x1"},
        "y": {"field": "y0", "type": "quantitative"},
        "y2": {"field": "y1"}
      }
    },
    {
      "data": {"name": "bars"},
      "mark": {"type": "rect", "stroke": "#1c1c1c", "strokeWidth": 6, "strokeOpacity": 0.75},
      "encoding": {
        "x": {"field": "x0", "type": "quantitative"},
        "x2": {"field": "x1"},
        "y": {"field": "y0", "type": "quantitative"},
        "y2": {"field": "y1"},
        "fill": {"field": "b", "type": "nominal", "legend": null}
      }
    },
    {
      "data": {"name": "ticks"},
      "mark": {"type": "text", "font": "Liberation Serif", "fontSize": 68, "color": "#3a3a3a", "align": "center", "baseline": "middle"},
      "encoding": {"text": {"field": "t"}}
    },
    {
      "data": {"name": "units"},
      "mark": {"type": "text", "font": "Liberation Serif", "fontSize": 56, "color": "#000000", "align": "center", "baseline": "middle"},
      "encoding": {"text": {"field": "t"}}
    }
  ]
}
